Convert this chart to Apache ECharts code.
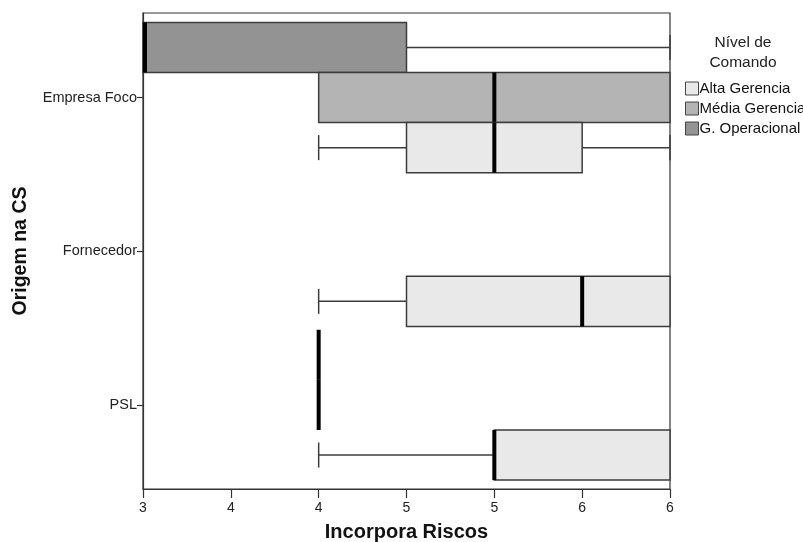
<!DOCTYPE html>
<html>
<head>
<meta charset="utf-8">
<script src="https://cdn.jsdelivr.net/npm/echarts@6/dist/echarts.min.js"></script>
<style>html,body{margin:0;padding:0;background:#fff;}#c{width:803px;height:542px;}</style>
</head>
<body>
<div id="c"></div>
<script>
// Categories (y axis), top to bottom
const categories = ['Empresa Foco', 'Fornecedor', 'PSL'];
// Groups (legend order)
const legendNames = ['Alta Gerencia', 'Média Gerencia', 'G. Operacional'];
// Box stats per category: [min, Q1, median, Q3, max]; null = no data
const altaStats  = [[4, 4.5, 5, 5.5, 6], [4, 4.5, 5.5, 6, 6], [4, 5, 5, 6, 6]];
const mediaStats = [[4, 4, 5, 6, 6], null, [4, 4, 4, 4, 4]];
const opStats    = [[3, 3, 3, 4.5, 6], null, [4, 4, 4, 4, 4]];
// X tick labels (ticks every 0.5 from 3 to 6, displayed rounded)
const xTickLabels = ['3', '4', '4', '5', '5', '6', '6'];

const FONT = 'Liberation Sans, Arial, sans-serif';
const SLOT = 0.326; // slot height in category units

function buildData(stats) {
  const out = [];
  stats.forEach((s, i) => { if (s) out.push([i].concat(s)); });
  return out;
}

function makeRender(slotOffset, fill) {
  return function (params, api) {
    const cat = api.value(0);
    const mn = api.value(1), q1 = api.value(2), md = api.value(3), q3 = api.value(4), mx = api.value(5);
    const unit = api.size([0, 1])[1];
    const slot = unit * SLOT;
    const cy = api.coord([3, cat])[1] + slotOffset * slot;
    const X = v => api.coord([v, cat])[0];
    const half = slot / 2;
    const capHalf = slot / 4;
    const stroke = { stroke: '#3c3c3c', lineWidth: 1.5 };
    const children = [];
    if (mn < q1) {
      children.push({ type: 'line', shape: { x1: X(mn), y1: cy, x2: X(q1), y2: cy }, style: stroke });
      children.push({ type: 'line', shape: { x1: X(mn), y1: cy - capHalf, x2: X(mn), y2: cy + capHalf }, style: stroke });
    }
    if (mx > q3) {
      children.push({ type: 'line', shape: { x1: X(q3), y1: cy, x2: X(mx), y2: cy }, style: stroke });
      children.push({ type: 'line', shape: { x1: X(mx), y1: cy - capHalf, x2: X(mx), y2: cy + capHalf }, style: stroke });
    }
    if (q3 > q1) {
      children.push({ type: 'rect', shape: { x: X(q1), y: cy - half, width: X(q3) - X(q1), height: slot },
        style: { fill: fill, stroke: '#3c3c3c', lineWidth: 1.5 } });
    }
    let mx0 = X(md);
    if (md === 3) mx0 += 2;
    children.push({ type: 'line', shape: { x1: mx0, y1: cy - half, x2: mx0, y2: cy + half },
      style: { stroke: '#000', lineWidth: 4 } });
    return { type: 'group', children: children };
  };
}

const seriesDefs = [
  { name: 'G. Operacional', stats: opStats, offset: -1, fill: '#939393' },
  { name: 'Média Gerencia', stats: mediaStats, offset: 0, fill: '#b4b4b4' },
  { name: 'Alta Gerencia', stats: altaStats, offset: 1, fill: '#e9e9e9' }
];

const chart = echarts.init(document.getElementById('c'), null, { renderer: 'canvas' });
chart.setOption({
  animation: false,
  backgroundColor: '#fff',
  title: {
    text: 'Nível de\nComando',
    left: 738, top: 28, textAlign: 'center',
    textStyle: { fontFamily: FONT, fontSize: 15.5, fontWeight: 'normal', color: '#222', lineHeight: 20 }
  },
  legend: {
    orient: 'vertical', left: 680, top: 76,
    data: legendNames,
    icon: 'rect', itemWidth: 13, itemHeight: 13, itemGap: 5,
    itemStyle: { borderColor: '#444', borderWidth: 1 },
    textStyle: { fontFamily: FONT, fontSize: 15, color: '#111', padding: [0, 0, 0, -4] }
  },
  grid: { left: 143, right: 133, top: 13, bottom: 53, outerBoundsMode: 'none', containLabel: false,
    show: true, borderColor: '#333', borderWidth: 1.2, backgroundColor: 'transparent' },
  xAxis: {
    type: 'value', min: 3, max: 6, interval: 0.5,
    name: 'Incorpora Riscos', nameLocation: 'middle', nameGap: 33,
    nameTextStyle: { fontFamily: FONT, fontSize: 20, fontWeight: 'bold', color: '#111' },
    axisLine: { show: true, onZero: false, lineStyle: { color: '#333', width: 1.2 } },
    axisTick: { show: true, length: 9, lineStyle: { color: '#333', width: 1.2 } },
    axisLabel: { fontFamily: FONT, fontSize: 14, color: '#222', margin: 12,
      formatter: v => xTickLabels[Math.round((v - 3) / 0.5)] },
    splitLine: { show: false }
  },
  yAxis: {
    type: 'value', inverse: true, min: -0.55, max: 2.547,
    name: 'Origem na CS', nameLocation: 'middle', nameGap: 112, nameRotate: 90,
    nameTextStyle: { fontFamily: FONT, fontSize: 19.5, fontWeight: 'bold', color: '#111' },
    axisLine: { show: true, onZero: false, lineStyle: { color: '#333', width: 1.2 } },
    axisTick: { show: true, length: 6, customValues: [0, 1, 2], lineStyle: { color: '#333', width: 1.2 } },
    axisLabel: { fontFamily: FONT, fontSize: 14.5, color: '#222', margin: 6, customValues: [0, 1, 2],
      formatter: v => categories[Math.round(v)] || '' },
    splitLine: { show: false }
  },
  series: seriesDefs.map(d => ({
    type: 'custom', name: d.name, clip: false,
    itemStyle: { color: d.fill, borderColor: '#444' },
    encode: { x: [1, 2, 3, 4, 5], y: 0 },
    renderItem: makeRender(d.offset, d.fill),
    data: buildData(d.stats)
  }))
});
</script>
</body>
</html>
